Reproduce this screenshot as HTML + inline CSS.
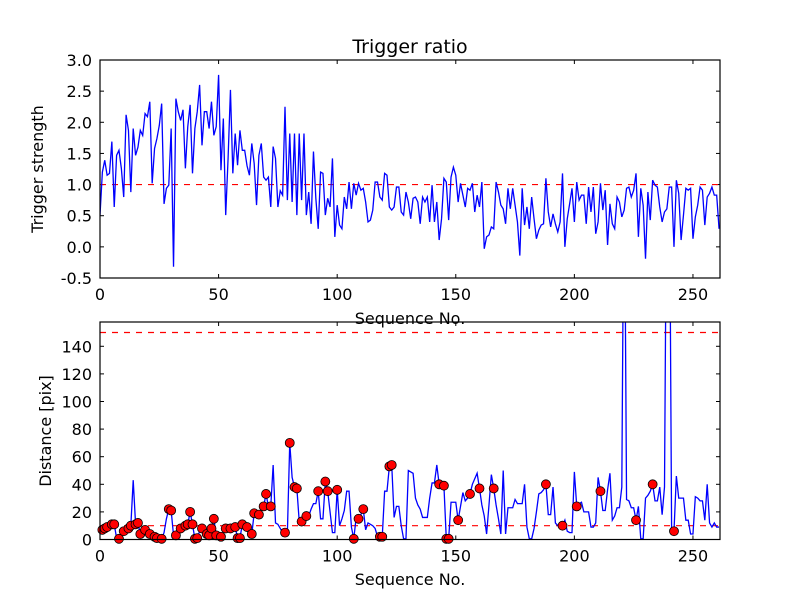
<!DOCTYPE html>
<html><head><meta charset="utf-8"><style>
body{margin:0;background:#fff}
svg{display:block;font-family:"DejaVu Sans","Liberation Sans",sans-serif}
</style></head><body>
<svg id="c" width="800" height="600" viewBox="0 0 800 600"></svg>
<script>
const topSeries=[0.51,1.2,1.39,1.15,1.18,1.69,0.64,1.47,1.55,1.26,0.8,2.12,1.87,0.88,1.9,1.47,1.6,1.87,1.79,2.14,2.09,2.33,1.02,1.58,1.74,1.95,2.3,0.69,0.94,0.99,1.9,-0.32,2.38,2.17,2.03,2.2,1.26,1.93,2.28,1.18,1.9,2.17,2.6,1.63,2.17,2.17,1.9,2.33,1.79,1.93,2.76,1.23,2.06,0.51,1.42,2.52,1.18,1.82,1.31,1.87,1.55,1.55,1.3,1.15,1.66,1.34,0.67,1.47,1.66,1.12,1.07,1.12,0.64,1.61,1.42,0.64,0.9,0.83,2.25,0.75,1.82,0.72,1.82,0.51,
1.82,0.75,1.82,0.51,0.88,0.37,1.53,0.78,0.29,1.2,1.18,0.51,0.78,0.64,1.42,0.16,0.67,0.35,0.29,0.8,0.61,1.04,0.61,1.02,0.83,1.02,0.91,0.94,0.72,0.4,0.43,0.59,1.04,1.04,0.8,0.75,1.18,1.15,0.64,0.59,0.64,0.96,0.96,0.56,0.51,0.88,0.72,0.45,0.78,0.8,0.72,0.37,0.8,0.72,0.8,0.4,0.99,0.4,0.72,0.11,0.45,1.1,1.04,0.43,1.12,1.28,1.15,0.72,1.02,0.83,0.64,0.94,0.91,1.02,0.56,0.83,0.64,1.04,-0.03,0.16,0.19,0.32,0.29,1.04,0.88,0.67,0.61,0.37,0.94,0.61,
0.94,0.67,0.4,-0.14,0.94,0.35,0.64,0.29,0.8,0.45,0.13,0.27,0.35,0.37,1.1,0.56,0.32,0.53,0.37,0.24,0.4,1.18,0.0,0.45,0.69,0.94,0.4,1.04,0.75,0.83,0.83,0.37,0.96,0.56,0.96,0.21,0.4,1.02,0.59,0.91,0.03,0.69,0.37,0.29,0.8,0.72,0.48,0.59,0.94,0.96,0.8,0.91,1.18,0.16,0.94,0.67,-0.19,0.88,0.43,1.07,0.99,0.96,0.64,0.4,0.56,0.61,0.96,0.96,0.0,1.07,0.86,0.11,0.51,0.94,0.91,0.94,0.13,0.48,0.67,0.96,0.91,0.35,0.8,0.86,0.96,0.83,0.83,0.29];
const distSeries=[5,7,8,9,10,11,11,1,0.5,3,6,7,8,10,43,11,12,4,4,7,3,4,4,2,1,0.5,0.5,5,15,22,21,3,3,6,8,9,10,11,20,11,0.5,1,6,8,10,4,3,8,15,3,3,2,6,8,9,8,8,9,1,1,11,10,9,5,4,19,19,18,22,24,33,24,24,54,12,11,8,5,5,5,70,45,38,37,13,13,16,17,17,
22,26,26,35,15,15,42,35,20,5,5,36,10,15,21,35,35,9,0.5,16,15,18,22,7,12,11,10,8,2,2,2,35,35,53,54,16,24,24,10,0.5,0.5,50,49,48,30,25,22,16,16,16,30,41,41,54,40,40,39,0.5,0.5,27,27,27,14,24,34,28,30,33,40,44,48,37,25,17,4,25,47,37,25,15,4,50,4,23,
23,23,29,26,26,26,40,9,0.5,0.5,8,20,33,34,36,40,18,18,38,12,10,10,10,14,6,5,5,49,24,26,27,20,20,20,9,9,12,45,35,21,21,36,48,14,17,23,23,38,300,29,28,23,23,14,24,0.5,0.5,30,32,35,40,28,28,38,18,38,300,300,6,6,46,30,30,30,14,14,4,4,31,30,28,28,14,40,12,9,12,9,9];
const dotIdx=[1,2,3,5,6,8,10,12,13,15,16,17,19,21,23,24,26,29,30,32,34,36,37,38,39,40,41,43,45,46,47,48,49,51,53,55,57,58,59,60,62,64,65,67,69,70,72,78,80,82,83,85,87,92,95,96,100,107,109,111,118,119,122,123,143,145,146,147,151,156,160,166,188,195,201,211,226,233,242];
const xTicks=[0,50,100,150,200,250];
const topYTicks=[-0.5,0,0.5,1,1.5,2,2.5,3];
const botYTicks=[0,20,40,60,80,100,120,140];
const topThreshold=[1];
const botThresholds=[10,150];

const NS="http://www.w3.org/2000/svg",svg=document.getElementById('c');
function mk(t,a,p){const e=document.createElementNS(NS,t);for(const k in a)e.setAttribute(k,a[k]);(p||svg).appendChild(e);return e;}
const L=100,R=720,XMAX=261.4;
const xs=v=>L+(v/XMAX)*(R-L);
const T={top:60,bot:278,min:-0.5,max:3.0},B={top:322,bot:539.5,min:0,max:157.6};
const ys=(ax,v)=>ax.bot-(v-ax.min)/(ax.max-ax.min)*(ax.bot-ax.top);

function axes(ax,yt,fmt,name){
  const g=mk('g',{});
  
  
  const cp=mk('clipPath',{id:name+'-clip'},g);mk('rect',{x:L,y:ax.top,width:R-L,height:ax.bot-ax.top},cp);
  xTicks.forEach(t=>{const x=xs(t);
    mk('line',{x1:x,x2:x,y1:ax.bot,y2:ax.bot-4,stroke:'#000'},g);
    mk('line',{x1:x,x2:x,y1:ax.top,y2:ax.top+4,stroke:'#000'},g);
    const tx=mk('text',{x:x,y:ax.bot+22,'text-anchor':'middle','font-size':16},g);tx.textContent=t;
    
    });
  yt.forEach(t=>{const y=ys(ax,t);
    mk('line',{x1:L,x2:L+4,y1:y,y2:y,stroke:'#000'},g);
    mk('line',{x1:R,x2:R-4,y1:y,y2:y,stroke:'#000'},g);
    const tx=mk('text',{x:L-8,y:y+6,'text-anchor':'end','font-size':16},g);tx.textContent=fmt(t);
    
    });
  return g;
}
const gt=axes(T,topYTicks,v=>v.toFixed(1),'top-axes');
const gb=axes(B,botYTicks,v=>String(v),'bottom-axes');

topThreshold.forEach(v=>{const l=mk('line',{x1:L,x2:R,y1:ys(T,v),y2:ys(T,v),stroke:'#f00','stroke-width':1.2,'stroke-dasharray':'6,6'},gt);
  });
const p1=mk('polyline',{points:topSeries.map((v,i)=>xs(i)+','+ys(T,v)).join(' '),fill:'none',stroke:'#00f','stroke-width':1.3,'clip-path':'url(#top-axes-clip)'},gt);



botThresholds.forEach(v=>{const l=mk('line',{x1:L,x2:R,y1:ys(B,v),y2:ys(B,v),stroke:'#f00','stroke-width':1.2,'stroke-dasharray':'6,6'},gb);
  });
const p2=mk('polyline',{points:distSeries.map((v,i)=>xs(i)+','+ys(B,v)).join(' '),fill:'none',stroke:'#00f','stroke-width':1.3,'clip-path':'url(#bottom-axes-clip)'},gb);


dotIdx.forEach(i=>{const c=mk('circle',{cx:xs(i),cy:ys(B,distSeries[i]),r:4.5,fill:'#f00',stroke:'#000','stroke-width':0.8},gb);
  
  });

[T,B].forEach(ax=>mk('rect',{x:L,y:ax.top,width:R-L,height:ax.bot-ax.top,fill:'none',stroke:'#000','stroke-width':1.2}));

function label(txt,a,name){const t=mk('text',a);t.textContent=txt;}
label('Trigger ratio',{x:410,y:53,'text-anchor':'middle','font-size':19},'chart-title');
label('Sequence No.',{x:410,y:324,'text-anchor':'middle','font-size':16},'top-x-axis-title');
label('Sequence No.',{x:410,y:585,'text-anchor':'middle','font-size':16},'bottom-x-axis-title');
label('Trigger strength',{x:0,y:0,'text-anchor':'middle','font-size':16,transform:'translate(43,169) rotate(-90)'},'top-y-axis-title');
label('Distance [pix]',{x:0,y:0,'text-anchor':'middle','font-size':16,transform:'translate(51,431) rotate(-90)'},'bottom-y-axis-title');
</script>
</body></html>
